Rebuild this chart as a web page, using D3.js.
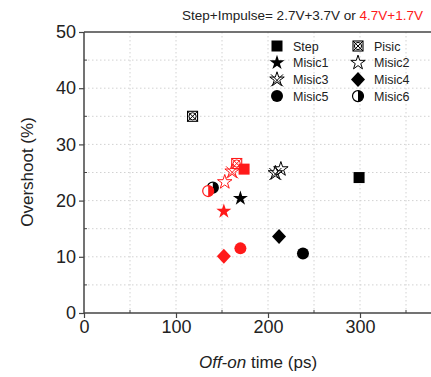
<!DOCTYPE html>
<html>
<head>
<meta charset="utf-8">
<script src="https://d3js.org/d3.v7.min.js"></script>
<style>
  body { margin: 0; background: #fff; }
  svg { font-family: Arial, "Liberation Sans", sans-serif; }
</style>
</head>
<body>
<div id="chart"></div>
<script>
// Data
var seriesNames = ["Step", "Pisic", "Misic1", "Misic2", "Misic3", "Misic4", "Misic5", "Misic6"];
var blackX = [299, 118, 170, 214, 208, 212, 238, 140];   // 2.7V+3.7V
var blackY = [24.1, 35.0, 20.4, 25.6, 24.9, 13.6, 10.6, 22.3];
var redX = [174, 166, 152, 153, 161, 152, 170, 135];     // 4.7V+1.7V
var redY = [25.6, 26.6, 18.1, 23.3, 25.2, 10.1, 11.5, 21.7];

var xTicks = [0, 100, 200, 300];
var yTicks = [0, 10, 20, 30, 40, 50];

var width = 431, height = 377;
var plotLeft = 84, plotTop = 32, plotBottom = 313;

var svg = d3.select("#chart").append("svg")
    .attr("width", width)
    .attr("height", height);

var x = d3.scaleLinear().domain([0, 400]).range([plotLeft, plotLeft + 368]);
var y = d3.scaleLinear().domain([0, 50]).range([plotBottom, plotTop]);

// dotted grid
var grid = svg.append("g");
grid.selectAll("line.vg")
    .data(d3.range(50, 401, 50))
    .join("line")
    .attr("x1", d => x(d)).attr("x2", d => x(d))
    .attr("y1", plotTop).attr("y2", plotBottom)
    .attr("stroke", "#d2d2d2")
    .attr("stroke-dasharray", "1.5,2.5");
grid.selectAll("line.hg")
    .data(d3.range(5, 50, 5))
    .join("line")
    .attr("x1", plotLeft).attr("x2", width)
    .attr("y1", d => y(d)).attr("y2", d => y(d))
    .attr("stroke", "#d2d2d2")
    .attr("stroke-dasharray", "1.5,2.5");

// axes
var xAxis = d3.axisBottom(x).tickValues(xTicks).tickSize(5).tickPadding(2);
var yAxis = d3.axisLeft(y).tickValues(yTicks).tickSize(5).tickPadding(3);

var gx = svg.append("g").attr("transform", "translate(0," + plotBottom + ")").call(xAxis);
var gy = svg.append("g").attr("transform", "translate(" + plotLeft + ",0)").call(yAxis);

[gx, gy].forEach(function (g) {
    g.select(".domain").remove();
    g.selectAll(".tick line").attr("stroke", "#444").attr("stroke-width", 1.2);
    g.selectAll(".tick text").attr("font-size", 18).attr("fill", "#222");
});

// minor ticks (inside)
svg.append("g").selectAll("line")
    .data(d3.range(50, 401, 100))
    .join("line")
    .attr("x1", d => x(d)).attr("x2", d => x(d))
    .attr("y1", plotBottom).attr("y2", plotBottom - 3)
    .attr("stroke", "#444");
svg.append("g").selectAll("line")
    .data(d3.range(5, 50, 10))
    .join("line")
    .attr("x1", plotLeft).attr("x2", plotLeft + 3)
    .attr("y1", d => y(d)).attr("y2", d => y(d))
    .attr("stroke", "#444");

// frame
svg.append("line").attr("x1", plotLeft).attr("x2", width).attr("y1", plotBottom).attr("y2", plotBottom)
    .attr("stroke", "#444").attr("stroke-width", 1.5);
svg.append("line").attr("x1", plotLeft).attr("x2", width).attr("y1", plotTop).attr("y2", plotTop)
    .attr("stroke", "#444").attr("stroke-width", 1.5);
svg.append("line").attr("x1", plotLeft).attr("x2", plotLeft).attr("y1", plotTop).attr("y2", plotBottom)
    .attr("stroke", "#444").attr("stroke-width", 1.5);

// axis titles
var xt = svg.append("text")
    .attr("x", 258).attr("y", 368)
    .attr("text-anchor", "middle")
    .attr("font-size", 17)
    .attr("fill", "#222");
xt.append("tspan").attr("font-style", "italic").text("Off-on");
xt.append("tspan").text(" time (ps)");

svg.append("text")
    .attr("transform", "translate(33,172) rotate(-90)")
    .attr("text-anchor", "middle")
    .attr("font-size", 17)
    .attr("fill", "#222")
    .text("Overshoot (%)");

// header text
var ht = svg.append("text")
    .attr("x", 423).attr("y", 20)
    .attr("text-anchor", "end")
    .attr("font-size", 13.5)
    .attr("fill", "#222");
ht.append("tspan").text("Step+Impulse= 2.7V+3.7V or ");
ht.append("tspan").attr("fill", "#ff1a1a").text("4.7V+1.7V");

// marker drawing
var starPath = d3.symbol().type(d3.symbolStar);

function drawMarker(g, name, color) {
    if (name === "Step") {
        g.append("rect").attr("x", -5.5).attr("y", -5.5).attr("width", 11).attr("height", 11)
            .attr("fill", color);
    } else if (name === "Pisic") {
        g.append("rect").attr("x", -5).attr("y", -5).attr("width", 10).attr("height", 10)
            .attr("fill", "none").attr("stroke", color).attr("stroke-width", 1.1);
        g.append("circle").attr("r", 3.6)
            .attr("fill", "none").attr("stroke", color).attr("stroke-width", 1);
        g.append("path").attr("d", "M-5,-5L5,5M5,-5L-5,5")
            .attr("stroke", color).attr("stroke-width", 1);
    } else if (name === "Misic1") {
        g.append("path").attr("d", starPath.size(70)())
            .attr("fill", color);
    } else if (name === "Misic2") {
        g.append("path").attr("d", starPath.size(65)())
            .attr("fill", "white").attr("stroke", color).attr("stroke-width", 1);
    } else if (name === "Misic3") {
        g.append("path").attr("d", starPath.size(65)())
            .attr("fill", "none").attr("stroke", color).attr("stroke-width", 1);
        g.append("path").attr("d", "M-6,-5L6,7M6,-5L-6,7")
            .attr("stroke", color).attr("stroke-width", 1);
    } else if (name === "Misic4") {
        g.append("path").attr("d", "M0,-7.5L7,0L0,7.5L-7,0Z")
            .attr("fill", color);
    } else if (name === "Misic5") {
        g.append("circle").attr("r", 6).attr("fill", color);
    } else if (name === "Misic6") {
        g.append("circle").attr("r", 5.5)
            .attr("fill", "white").attr("stroke", color).attr("stroke-width", 1.2);
        g.append("path").attr("d", "M0,-5.5A5.5,5.5 0 0 1 0,5.5Z")
            .attr("fill", color);
    }
}

var points = [];
seriesNames.forEach(function (n, i) {
    points.push({ name: n, x: blackX[i], y: blackY[i], color: "#000" });
});
seriesNames.forEach(function (n, i) {
    points.push({ name: n, x: redX[i], y: redY[i], color: "#ff1a1a" });
});

svg.append("g").selectAll("g")
    .data(points)
    .join("g")
    .attr("transform", d => "translate(" + x(d.x) + "," + y(d.y) + ")")
    .each(function (d) { drawMarker(d3.select(this), d.name, d.color); });

// legend
var legend = svg.append("g");
seriesNames.forEach(function (n, i) {
    var col = i % 2, row = Math.floor(i / 2);
    var lx = 277 + col * 81, ly = 46 + row * 16.7;
    var g = legend.append("g").attr("transform", "translate(" + lx + "," + ly + ")");
    drawMarker(g, n, "#000");
    legend.append("text")
        .attr("x", lx + 16).attr("y", ly + 4.5)
        .attr("font-size", 12.5)
        .attr("fill", "#222")
        .text(n);
});
</script>
</body>
</html>
